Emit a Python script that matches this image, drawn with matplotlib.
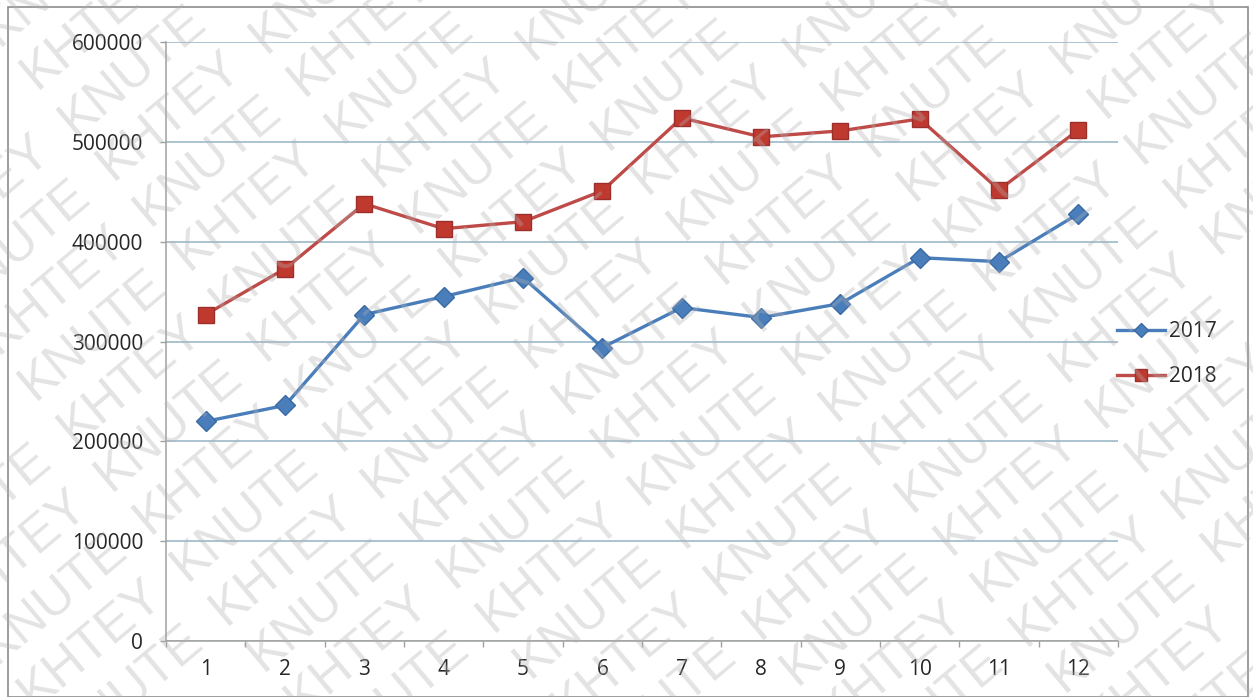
import numpy as np
import matplotlib
matplotlib.use('Agg')
import matplotlib.pyplot as plt
from matplotlib.patches import Rectangle

plt.rcParams['font.family'] = ['Open Sans', 'DejaVu Sans']

# monthly values
months = [1, 2, 3, 4, 5, 6, 7, 8, 9, 10, 11, 12]
sales_2017 = [220000, 236000, 327000, 345000, 364000, 294000, 334000, 324000, 338000, 384000, 380000, 428000]
sales_2018 = [327000, 373000, 438000, 413000, 420000, 451000, 524000, 505000, 511000, 523000, 452000, 512000]
series_names = ['2017', '2018']
y_ticks = [0, 100000, 200000, 300000, 400000, 500000, 600000]
wm_words = ['KNUTE', 'KHTEY']

W, H = 1253, 697
fig = plt.figure(figsize=(W / 100, H / 100), dpi=100)
fig.patch.set_facecolor('white')

# outer chart frame
fig.add_artist(Rectangle((0.006, 0.0), 0.99, 0.99, transform=fig.transFigure,
                         fill=False, edgecolor='#8c8c8c', linewidth=1.2))

ax = fig.add_axes([0.1325, 0.0803, 0.7598, 0.8594])
x = np.arange(len(months))
ax.plot(x, sales_2017, color='#4a7ebb', linewidth=2.4, marker='D', markersize=10,
        markerfacecolor='#4a7ebb', markeredgecolor='#3a6aa5', label=series_names[0])
ax.plot(x, sales_2018, color='#be4b48', linewidth=2.4, marker='s', markersize=12,
        markerfacecolor='#c0392f', markeredgecolor='#9c2f2c', label=series_names[1])

ax.set_xlim(-0.5, len(months) - 0.5)
ax.set_ylim(0, 600000)
ax.set_yticks(y_ticks)
ax.set_yticklabels([str(v) for v in y_ticks])
ax.set_xticks(x)
ax.set_xticklabels([str(m) for m in months])
ax.set_xticks(np.arange(-0.5, len(months)), minor=True)
ax.tick_params(axis='x', which='major', length=0, labelsize=15, pad=13, colors='#262626')
ax.tick_params(axis='x', which='minor', length=4.5, width=1, color='#a0a0a0', direction='out')
ax.tick_params(axis='y', length=4.5, width=1, color='#a0a0a0', labelsize=15, pad=12, labelcolor='#262626')
ax.grid(axis='y', color='#95b3c6', linewidth=1.1)
ax.set_axisbelow(True)
for side in ['top', 'right']:
    ax.spines[side].set_visible(False)
for side in ['left', 'bottom']:
    ax.spines[side].set_color('#a0a0a0')
    ax.spines[side].set_linewidth(1.1)

ax.legend(loc='center left', bbox_to_anchor=(0.999, 0.479), frameon=False, fontsize=15,
          handlelength=2.3, handletextpad=0.2, labelspacing=1.15, borderaxespad=0,
          borderpad=0, markerscale=0.7, labelcolor='#262626')

# diagonal watermark, one word at a time along tilted rows
ang = np.deg2rad(40)
u = np.array([np.cos(ang), np.sin(ang)])
v = np.array([-np.sin(ang), np.cos(ang)])
step, gap = 200, 59
for j in range(-25, 26):
    for i in range(-12, 13):
        cx, cy = np.array([W / 2, H / 2]) + i * step * u + j * gap * v
        if -40 < cx < W + 40 and -30 < cy < H + 30:
            fig.text(cx / W, cy / H, wm_words[(i + j) % 2], rotation=40, rotation_mode='anchor',
                     ha='center', va='center', fontsize=37, color='#b0b0b0', alpha=0.35,
                     family=['Liberation Sans', 'DejaVu Sans'], zorder=10)

fig.savefig('out.png', dpi=100, facecolor='white')
